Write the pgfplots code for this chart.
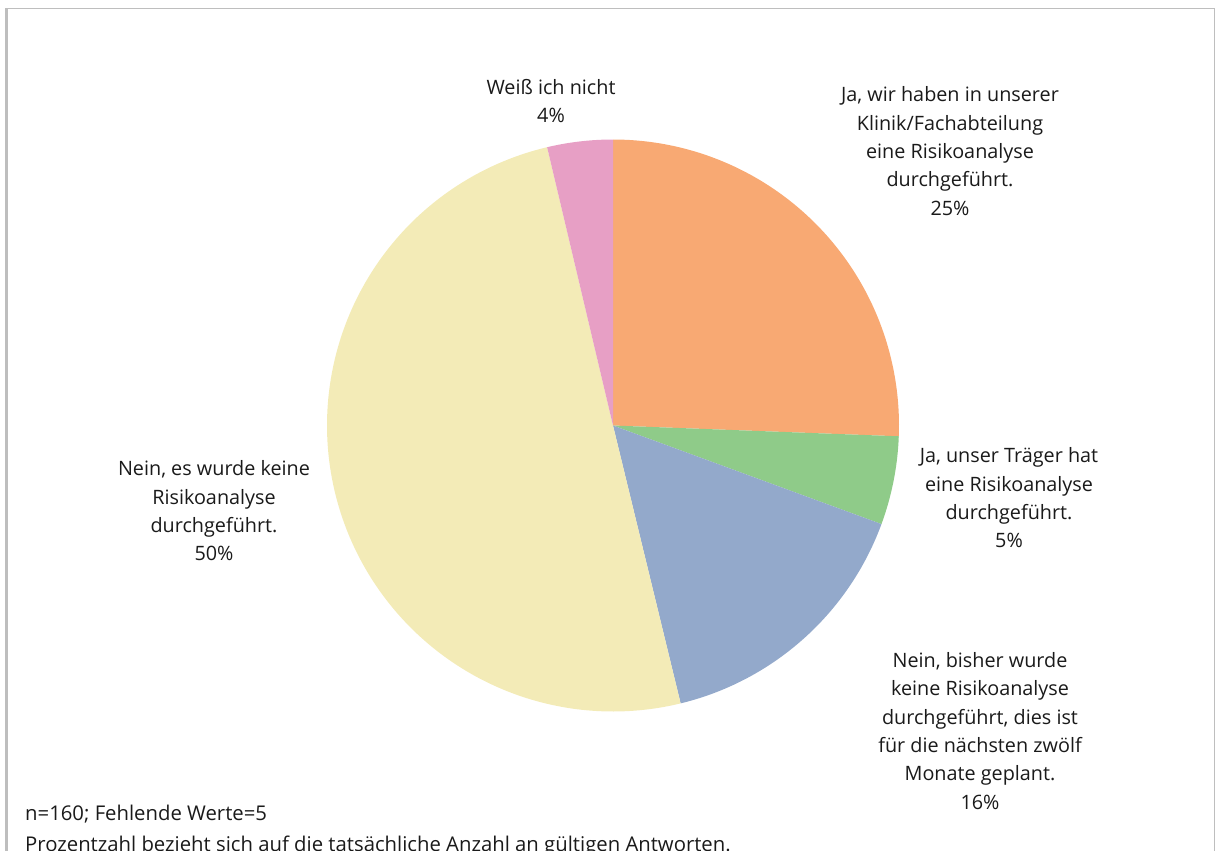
\documentclass[border=0pt]{standalone}
\usepackage{pgfplots}
\usepackage{pgfplotstable}
\pgfplotsset{compat=1.18}
\usepackage{fontspec}
\setmainfont{Open Sans}
\definecolor{cA}{RGB}{248,169,115}
\definecolor{cB}{RGB}{143,203,137}
\definecolor{cC}{RGB}{147,169,203}
\definecolor{cD}{RGB}{243,235,183}
\definecolor{cE}{RGB}{231,159,197}
\definecolor{frame}{RGB}{190,190,190}
\definecolor{txt}{RGB}{26,26,26}

\pgfplotstableread{
slice value
A 25.6
B 5.0
C 15.6
D 50.1
E 3.7
}\piedata
\pgfplotstablegetelem{0}{value}\of\piedata\let\vA\pgfplotsretval
\pgfplotstablegetelem{1}{value}\of\piedata\let\vB\pgfplotsretval
\pgfplotstablegetelem{2}{value}\of\piedata\let\vC\pgfplotsretval
\pgfplotstablegetelem{3}{value}\of\piedata\let\vD\pgfplotsretval
\pgfplotstablegetelem{4}{value}\of\piedata\let\vE\pgfplotsretval
\pgfmathsetmacro\tA{90}
\pgfmathsetmacro\tB{\tA-3.6*\vA}
\pgfmathsetmacro\tC{\tB-3.6*\vB}
\pgfmathsetmacro\tD{\tC-3.6*\vC}
\pgfmathsetmacro\tE{\tD-3.6*\vD}
\pgfmathsetmacro\tF{\tE-3.6*\vE}
\def\cx{613}\def\cy{425.5}\def\R{286}

\begin{document}
\begin{tikzpicture}
\begin{axis}[
  at={(0,0)}, anchor=south west,
  width=1216pt, height=851pt, scale only axis,
  xmin=0, xmax=1216, ymin=0, ymax=851, y dir=reverse,
  hide axis, clip=false,
  every axis plot/.append style={draw=none},
]
% frame
\draw[frame, line width=3pt] (axis cs:6.5,8) -- (axis cs:6.5,900);
\draw[frame, line width=1.5pt] (axis cs:5,8.7) -- (axis cs:1214.5,8.7);
\draw[frame, line width=1.5pt] (axis cs:1214.5,8) -- (axis cs:1214.5,900);
% pie slices
\addplot[fill=cA, domain=\tB:\tA, samples=120, variable=\t]
  ({\cx+\R*cos(\t)},{\cy-\R*sin(\t)}) -- (axis cs:\cx,\cy) -- cycle;
\addplot[fill=cB, domain=\tC:\tB, samples=40, variable=\t]
  ({\cx+\R*cos(\t)},{\cy-\R*sin(\t)}) -- (axis cs:\cx,\cy) -- cycle;
\addplot[fill=cC, domain=\tD:\tC, samples=80, variable=\t]
  ({\cx+\R*cos(\t)},{\cy-\R*sin(\t)}) -- (axis cs:\cx,\cy) -- cycle;
\addplot[fill=cD, domain=\tE:\tD, samples=200, variable=\t]
  ({\cx+\R*cos(\t)},{\cy-\R*sin(\t)}) -- (axis cs:\cx,\cy) -- cycle;
\addplot[fill=cE, domain=\tF:\tE, samples=30, variable=\t]
  ({\cx+\R*cos(\t)},{\cy-\R*sin(\t)}) -- (axis cs:\cx,\cy) -- cycle;
% labels
\tikzset{lab/.style={align=center, text=txt, inner sep=0pt,
  font=\fontsize{19.8}{28.3}\selectfont}}
\node[lab] at (axis cs:950,151) {Ja, wir haben in unserer\\Klinik/Fachabteilung\\eine Risikoanalyse\\durchgeführt.\\25\%};
\node[lab] at (axis cs:1009,498) {Ja, unser Träger hat\\eine Risikoanalyse\\durchgeführt.\\5\%};
\node[lab] at (axis cs:980,731) {Nein, bisher wurde\\keine Risikoanalyse\\durchgeführt, dies ist\\für die nächsten zwölf\\Monate geplant.\\16\%};
\node[lab] at (axis cs:214,511) {Nein, es wurde keine\\Risikoanalyse\\durchgeführt.\\50\%};
\node[lab] at (axis cs:551,101) {Weiß ich nicht\\4\%};
\node[lab, anchor=base west, font=\fontsize{20.3}{28.3}\selectfont] at (axis cs:25,820) {n=160; Fehlende Werte=5};
\node[lab, anchor=base west, font=\fontsize{20.3}{28.3}\selectfont] at (axis cs:25,851.5) {Prozentzahl bezieht sich auf die tatsächliche Anzahl an gültigen Antworten.};
\end{axis}
\pgfresetboundingbox
\path[use as bounding box] (0,0) rectangle (1216pt,851pt);
\end{tikzpicture}
\end{document}
